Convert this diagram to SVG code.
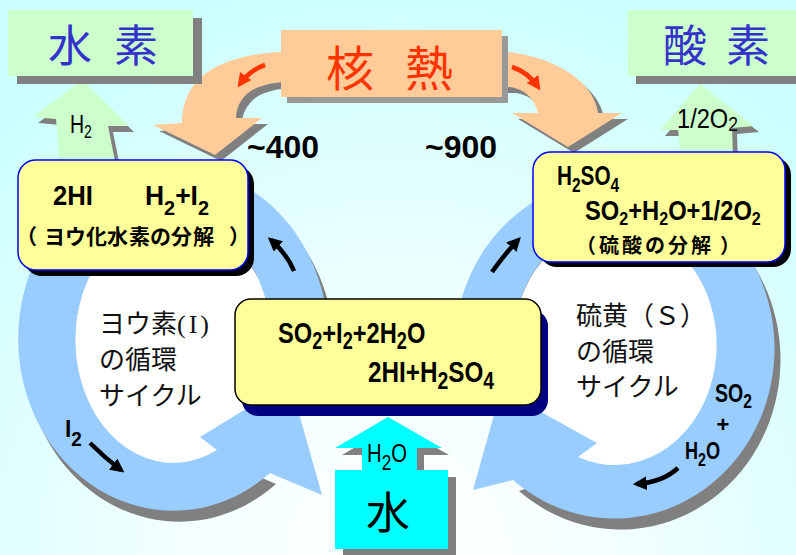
<svg xmlns="http://www.w3.org/2000/svg" width="796" height="555" viewBox="0 0 796 555">
<defs>
<radialGradient id="bgg" gradientUnits="userSpaceOnUse" cx="398" cy="560" r="580">
<stop offset="0" stop-color="#ffffff"/><stop offset="0.4" stop-color="#f2ffff"/><stop offset="1" stop-color="#ccffff"/>
</radialGradient>
<marker id="ah" viewBox="0 0 10 10" refX="7" refY="5" markerWidth="14" markerHeight="14" markerUnits="userSpaceOnUse" orient="auto"><path d="M0,0 L10,5 L0,10 Z" fill="#000"/></marker>
<marker id="ahr" viewBox="0 0 10 10" refX="7" refY="5" markerWidth="14" markerHeight="14" markerUnits="userSpaceOnUse" orient="auto"><path d="M0,0 L10,5 L0,10 Z" fill="#ff3300"/></marker>
</defs>
<style>
.jp{font-family:"Noto Sans CJK JP","Noto Sans CJK SC",sans-serif}
.f{font-family:"Liberation Sans",Arial,sans-serif;font-weight:bold;fill:#000}
.fn{font-family:"Liberation Sans",Arial,sans-serif;fill:#000}
.sh{fill:#808080}
.ring{fill:#99ccff}
.hole{fill:#ffffff}
.heat{fill:#ffcc99}
.gas{fill:#ccffcc}
.yel{fill:#ffff99}
.arr{fill:none;stroke:#000;stroke-width:4.5;marker-end:url(#ah)}
.rarr{fill:none;stroke:#ff3300;stroke-width:4.5;marker-end:url(#ahr)}
.cyc{font-size:26px;fill:#111}
.title{font-size:44px;fill:#3333cc}
</style>
<rect id="background" x="0" y="0" width="796" height="555" fill="url(#bgg)"/>

<g id="connectors">
  <g id="ring-iodine">
    <path class="sh" transform="translate(6,11)" d="M328,330 A155,172 0 1 0 270,473 L217,450 A98,123 0 1 1 271,330 Z"/>
    <ellipse class="hole" cx="173" cy="340" rx="98" ry="123"/>
    <path class="ring" d="M328,330 A155,172 0 1 0 270,473 L322,495 L290,382 L200,437 L217,450 A98,123 0 1 1 271,330 Z"/>
  </g>
  <g id="ring-sulfur">
    <path class="sh" transform="translate(6,11)" d="M455,335 A160,170 0 1 1 513,480 L578,457 A102,120 0 1 0 513,335 Z"/>
    <ellipse class="hole" cx="615" cy="345" rx="102" ry="120"/>
    <path class="ring" d="M455,335 A160,170 0 1 1 513,480 L473,490 L501,390 L597,443 L578,457 A102,120 0 1 0 513,335 Z"/>
  </g>
  <path class="sh" transform="translate(6,6)" d="M292,52 L281,52 C250,53 210,62 193,86 C185,98 182,110 182,123 L153,125 L215,155 L262,118 L236,118 C236,104 246,90 262,86 C268,84 276,82 292,82 Z"/>
  <path class="heat" d="M292,52 L281,52 C250,53 210,62 193,86 C185,98 182,110 182,123 L153,125 L215,155 L262,118 L236,118 C236,104 246,90 262,86 C268,84 276,82 292,82 Z"/>
  <path class="sh" transform="translate(6,6)" d="M490,52 L508,52 C540,55 574,70 589,91 C595,100 597,106 598,113 L622,113 L568,147 L512,113 L538,113 C535,100 525,88 508,87 L490,87 Z"/>
  <path class="heat" d="M490,52 L508,52 C540,55 574,70 589,91 C595,100 597,106 598,113 L622,113 L568,147 L512,113 L538,113 C535,100 525,88 508,87 L490,87 Z"/>
  <path class="rarr" d="M265,65 Q250,70 240,84"/>
  <path class="rarr" d="M512,67 Q528,72 538,87"/>
  <polygon class="sh" transform="translate(5,6)" points="82,80 129,126 108,126 116,166 60,166 56,119 33,117"/>
  <polygon class="gas" points="82,80 129,126 108,126 116,166 60,166 56,119 33,117"/>
  <text class="fn" transform="translate(70,133) scale(0.78,1)" font-size="25">H<tspan font-size="18" dy="5">2</tspan></text>
  <polygon class="sh" transform="translate(5,6)" points="700,84 754,126 732,128 733,156 681,156 678,130 660,130"/>
  <polygon class="gas" points="700,84 754,126 732,128 733,156 681,156 678,130 660,130"/>
  <text class="fn" transform="translate(677,128) scale(0.876,1)" font-size="27">1/2O<tspan font-size="20" dy="3">2</tspan></text>
  <polygon class="sh" transform="translate(7,7)" points="388,417 442,448 417,448 417,472 362,472 362,448 335,448"/>
  <polygon fill="#00ffff" points="388,417 442,448 417,448 417,472 362,472 362,448 335,448"/>
  <text class="fn" transform="translate(367,462) scale(0.78,1)" font-size="26">H<tspan font-size="22" dy="8">2</tspan><tspan dy="-8">O</tspan></text>
  <path class="arr" d="M294,271 Q287,254 271,240"/>
  <path class="arr" d="M90,443 Q105,458 121,470"/>
  <path class="arr" d="M492,272 Q504,255 518,240"/>
  <path class="arr" d="M678,468 Q663,482 637,484"/>
  <text class="f" transform="translate(65,437) scale(0.95,1)" font-size="24">I<tspan font-size="20" dy="9">2</tspan></text>
  <text class="f" transform="translate(715,402) scale(0.78,1)" font-size="25">SO<tspan font-size="20" dy="6">2</tspan></text>
  <text class="f" x="723" y="432" font-size="22" text-anchor="middle">+</text>
  <text class="f" transform="translate(685,459) scale(0.79,1)" font-size="23">H<tspan font-size="18" dy="7">2</tspan><tspan dy="-7">O</tspan></text>
  <text class="f" x="247" y="158" font-size="32">~400</text>
  <text class="f" x="425" y="158" font-size="32">~900</text>
</g>

<g id="node-hydrogen">
  <rect class="sh" x="17" y="18" width="185" height="66"/>
  <rect class="gas" x="8" y="10" width="185" height="66"/>
  <text class="jp title" x="48 92 114" y="62">水 素</text>
</g>
<g id="node-oxygen">
  <rect class="sh" x="636" y="18" width="170" height="66"/>
  <rect class="gas" x="628" y="10" width="170" height="66"/>
  <text class="jp title" x="663 709 726" y="62" font-size="46">酸 素</text>
</g>
<g id="node-heat">
  <rect fill="#999999" x="287" y="36" width="221" height="67"/>
  <rect class="heat" x="281" y="30" width="221" height="67"/>
  <text class="jp" x="326 374 405" y="86" font-size="48" fill="#ff3300">核 熱</text>
</g>
<g id="node-hi">
  <rect x="24" y="166" width="230" height="110" rx="18" fill="#000"/>
  <rect class="yel" x="18" y="160" width="230" height="110" rx="18" stroke="#0000ff" stroke-width="1.5"/>
  <text class="f" transform="translate(53,205) scale(0.918,1)" font-size="28">2HI</text>
  <text class="f" transform="translate(145,205) scale(0.945,1)" font-size="28">H<tspan font-size="21" dy="10">2</tspan><tspan dy="-10">+I</tspan><tspan font-size="21" dy="10">2</tspan></text>
  <text class="jp" x="16 44 65 86 107 129 150 171 193 229" y="244" font-size="21" font-weight="bold">（ヨウ化水素の分解）</text>
</g>
<g id="node-h2so4">
  <rect x="539" y="157" width="252" height="110" rx="18" fill="#000"/>
  <rect class="yel" x="533" y="152" width="252" height="110" rx="18" stroke="#0000ff" stroke-width="1.5"/>
  <text class="f" transform="translate(557,185) scale(0.74,1)" font-size="28">H<tspan font-size="21" dy="7">2</tspan><tspan dy="-7">SO</tspan><tspan font-size="21" dy="7">4</tspan></text>
  <text class="f" transform="translate(585,220) scale(0.847,1)" font-size="28">SO<tspan font-size="19" dy="5">2</tspan><tspan dy="-5">+H</tspan><tspan font-size="19" dy="5">2</tspan><tspan dy="-5">O+1/2O</tspan><tspan font-size="19" dy="5">2</tspan></text>
  <text class="jp" x="576 599 622 645 668 691 720" y="253" font-size="20" font-weight="bold">（硫酸の分解）</text>
</g>
<g id="node-bunsen">
  <rect x="242" y="310" width="306" height="106" rx="16" fill="#000080"/>
  <rect class="yel" x="235" y="299" width="306" height="106" rx="16" stroke="#000" stroke-width="1.5"/>
  <text class="f" transform="translate(278,343) scale(0.789,1)" font-size="30">SO<tspan font-size="23" dy="6">2</tspan><tspan dy="-6">+I</tspan><tspan font-size="23" dy="6">2</tspan><tspan dy="-6">+2H</tspan><tspan font-size="23" dy="6">2</tspan><tspan dy="-6">O</tspan></text>
  <text class="f" transform="translate(368,382) scale(0.809,1)" font-size="30">2HI+H<tspan font-size="24" dy="7">2</tspan><tspan dy="-7">SO</tspan><tspan font-size="24" dy="7">4</tspan></text>
</g>
<g id="node-water">
  <rect class="sh" x="343" y="477" width="113" height="79"/>
  <rect fill="#00ffff" x="335" y="470" width="113" height="79"/>
  <text class="jp" x="366" y="529" font-size="44" fill="#000">水</text>
</g>
<g id="label-iodine-cycle">
  <text class="jp cyc" x="99" y="333">ヨウ素<tspan font-family="'Liberation Serif', serif" letter-spacing="3">(I)</tspan></text>
  <text class="jp cyc" x="99" y="369">の循環</text>
  <text class="jp cyc" x="99" y="405">サイクル</text>
</g>
<g id="label-sulfur-cycle">
  <text class="jp cyc" x="576" y="325">硫黄（Ｓ）</text>
  <text class="jp cyc" x="576" y="361">の循環</text>
  <text class="jp cyc" x="576" y="396">サイクル</text>
</g>
</svg>
